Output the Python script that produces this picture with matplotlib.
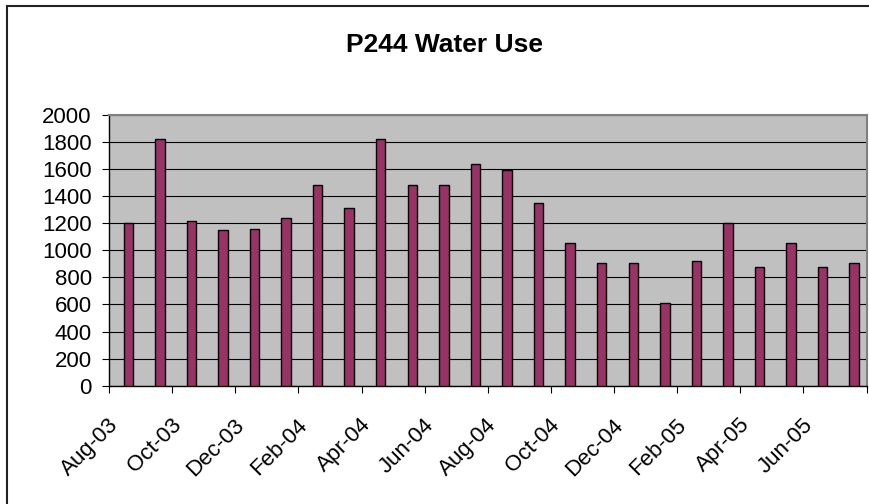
import matplotlib
matplotlib.use("Agg")
import matplotlib.pyplot as plt
from matplotlib.patches import Rectangle
import matplotlib.transforms as mtransforms
import numpy as np

months = ["Aug-03", "Sep-03", "Oct-03", "Nov-03", "Dec-03", "Jan-04", "Feb-04", "Mar-04",
          "Apr-04", "May-04", "Jun-04", "Jul-04", "Aug-04", "Sep-04", "Oct-04", "Nov-04",
          "Dec-04", "Jan-05", "Feb-05", "Mar-05", "Apr-05", "May-05", "Jun-05", "Jul-05"]
water_use = [1200, 1820, 1215, 1150, 1160, 1240, 1485, 1310,
             1820, 1485, 1485, 1635, 1595, 1350, 1055, 905,
             905, 610, 920, 1200, 880, 1055, 880, 905]
tick_labels = ["Aug-03", "Oct-03", "Dec-03", "Feb-04", "Apr-04", "Jun-04",
               "Aug-04", "Oct-04", "Dec-04", "Feb-05", "Apr-05", "Jun-05", ""]
title = "P244 Water Use"

plt.rcParams['font.family'] = ['Liberation Sans', 'DejaVu Sans']

W, H = 869, 504
fig = plt.figure(figsize=(W / 100, H / 100), dpi=100)

left_px, right_px, top_px, bottom_px = 109, 866.5, 115, 385.7
ax = fig.add_axes([left_px / W, 1 - bottom_px / H,
                   (right_px - left_px) / W, (bottom_px - top_px) / H])
ax.set_facecolor('#C0C0C0')

x = np.arange(len(months))
shift = 0.11
ax.bar(x, water_use, width=0.3, color='#993366', edgecolor='black',
       linewidth=1.0, zorder=3)

ax.set_xlim(-0.5 - shift, len(months) - 0.5 - shift)
ax.set_ylim(0, 2000)
ax.set_yticks(np.arange(0, 2001, 200))
ax.yaxis.grid(True, color='black', linewidth=0.8, zorder=1)
ax.set_axisbelow(True)

xt = np.arange(-0.5 - shift, len(months), 2)
ax.set_xticks(xt)
ax.set_xticklabels(tick_labels, rotation=45, ha='right', va='center',
                   rotation_mode='anchor', fontsize=16)
ax.tick_params(axis='x', length=5, width=0.8, pad=21, direction='out')
ax.tick_params(axis='y', length=5.4, width=0.8, pad=7, labelsize=16, direction='out')
offset = mtransforms.ScaledTranslation(6 / 100, 0, fig.dpi_scale_trans)
for lbl in ax.get_xticklabels():
    lbl.set_transform(lbl.get_transform() + offset)

for s in ['left', 'bottom']:
    ax.spines[s].set_color('black')
    ax.spines[s].set_linewidth(1.0)
for s in ['top', 'right']:
    ax.spines[s].set_color('#808080')
    ax.spines[s].set_linewidth(1.5)

fig.text(444 / W, 1 - 52 / H, title, ha='center', va='baseline',
         fontsize=19, fontweight='bold')

fig.patches.append(Rectangle((7 / W, -0.05), 1.0, 1 - 6 / H + 0.05,
                             transform=fig.transFigure, fill=False,
                             edgecolor='#222222', linewidth=1.5))

fig.savefig('out.png', dpi=100)
